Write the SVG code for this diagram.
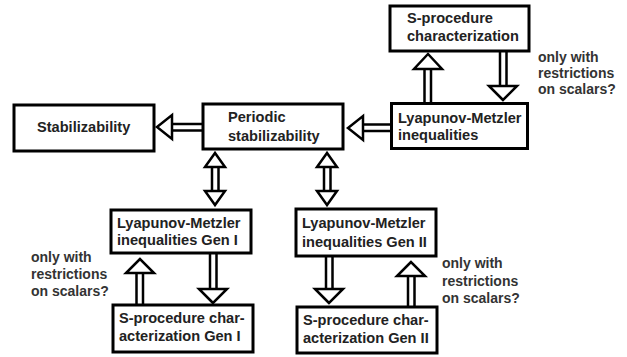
<svg xmlns="http://www.w3.org/2000/svg" width="627" height="357" viewBox="0 0 627 357">
<style>
.box{fill:#fff;stroke:#000;stroke-width:3}
.t{font-family:"Liberation Sans",Arial,sans-serif;font-weight:bold;font-size:14.6px;fill:#222}
.n{font-family:"Liberation Sans",Arial,sans-serif;font-weight:bold;font-size:14px;fill:#333}
.sh{stroke:#000;stroke-width:2.5;fill:none}
.hd{fill:#fff;stroke:#000;stroke-width:2.5;stroke-linejoin:miter}
</style>
<rect width="627" height="357" fill="#fff"/>
<g id="connectors">
<g id="c1"><path class="sh" d="M362 124.5H391M362 131H391"/><polygon class="hd" points="348,128 363,116 363,140"/></g>
<g id="c2"><path class="sh" d="M171 124H203M171 130.5H203"/><polygon class="hd" points="157,127 172,115 172,139"/></g>
<g id="c3"><path class="sh" d="M424.5 69V103M431 69V103"/><polygon class="hd" points="428,54 414,69 442,69"/></g>
<g id="c4"><path class="sh" d="M500 51V86M506.5 51V86"/><polygon class="hd" points="503,100 489,86 517,86"/></g>
<g id="c5"><path class="sh" d="M212 167V191M218.5 167V191"/><polygon class="hd" points="215,153 205,167 225,167"/><polygon class="hd" points="215,205 205,191 225,191"/></g>
<g id="c6"><path class="sh" d="M324 167V191M330.5 167V191"/><polygon class="hd" points="327,153 317,167 337,167"/><polygon class="hd" points="327,205 317,191 337,191"/></g>
<g id="c7"><path class="sh" d="M136.5 273V305M143 273V305"/><polygon class="hd" points="140,259 126,273 154,273"/></g>
<g id="c8"><path class="sh" d="M210 253V289M216.5 253V289"/><polygon class="hd" points="213,303 199,289 227,289"/></g>
<g id="c9"><path class="sh" d="M326 256V289M332.5 256V289"/><polygon class="hd" points="329,303 315,289 343,289"/></g>
<g id="c10"><path class="sh" d="M408 276V307M414.5 276V307"/><polygon class="hd" points="411,262 397,276 425,276"/></g>
</g>
<g id="sproc"><rect class="box" x="390" y="6" width="139" height="45"/><text class="t" x="407" y="23">S-procedure</text><text class="t" x="407" y="41">characterization</text></g>
<g id="lm"><rect class="box" x="391.5" y="103.5" width="136" height="45"/><text class="t" x="398" y="123">Lyapunov-Metzler</text><text class="t" x="398" y="140">inequalities</text></g>
<g id="stab"><rect class="box" x="14" y="105" width="140" height="46"/><text class="t" x="37" y="132">Stabilizability</text></g>
<g id="periodic"><rect class="box" x="203" y="104" width="140" height="45"/><text class="t" x="228" y="122">Periodic</text><text class="t" x="228" y="141">stabilizability</text></g>
<g id="lm1"><rect class="box" x="111" y="210" width="140" height="43"/><text class="t" x="117" y="228">Lyapunov-Metzler</text><text class="t" x="117" y="245">inequalities Gen I</text></g>
<g id="sp1"><rect class="box" x="113" y="305" width="140" height="47"/><text class="t" x="119" y="323">S-procedure char-</text><text class="t" x="119" y="341">acterization Gen I</text></g>
<g id="lm2"><rect class="box" x="296" y="209" width="140" height="47"/><text class="t" x="302" y="228">Lyapunov-Metzler</text><text class="t" x="302" y="247">inequalities Gen II</text></g>
<g id="sp2"><rect class="box" x="297" y="307" width="140" height="46"/><text class="t" x="303" y="325">S-procedure char-</text><text class="t" x="303" y="343">acterization Gen II</text></g>
<g id="note1"><text class="n" x="538" y="62">only with</text><text class="n" x="538" y="78">restrictions</text><text class="n" x="538" y="94">on scalars?</text></g>
<g id="note2"><text class="n" x="31" y="262">only with</text><text class="n" x="31" y="279">restrictions</text><text class="n" x="31" y="296">on scalars?</text></g>
<g id="note3"><text class="n" x="442" y="268">only with</text><text class="n" x="442" y="286">restrictions</text><text class="n" x="442" y="303">on scalars?</text></g>
</svg>
